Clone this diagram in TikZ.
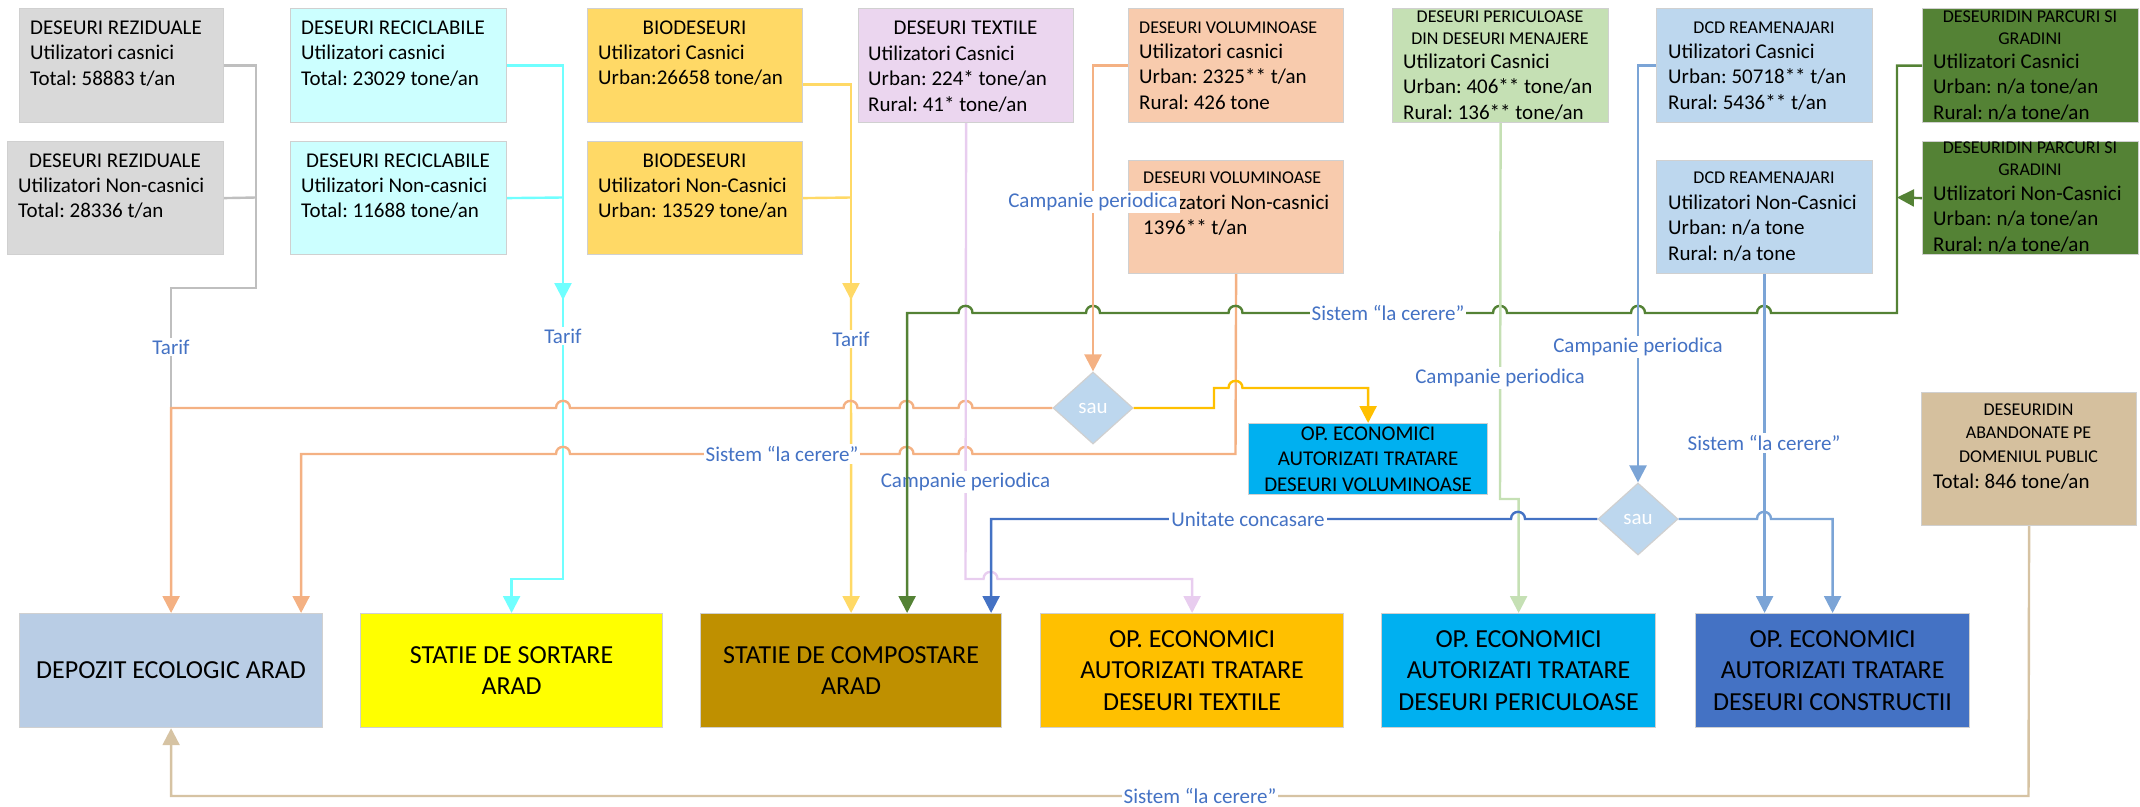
\documentclass[tikz,border=0pt]{standalone}
\usepackage{fontspec}
\setmainfont{Carlito}
\usetikzlibrary{arrows.meta,shapes.geometric}
\definecolor{cBord}{HTML}{D0D0D0}
\definecolor{cRes}{HTML}{D9D9D9}
\definecolor{cRec}{HTML}{CCFFFF}
\definecolor{cBio}{HTML}{FFD966}
\definecolor{cTex}{HTML}{EBD6EF}
\definecolor{cVol}{HTML}{F8CBAD}
\definecolor{cPer}{HTML}{C5E0B4}
\definecolor{cDcd}{HTML}{BDD7EE}
\definecolor{cParc}{HTML}{548235}
\definecolor{cAb}{HTML}{D5C09E}
\definecolor{cDep}{HTML}{B9CDE5}
\definecolor{cSort}{HTML}{FFFF00}
\definecolor{cComp}{HTML}{BF9000}
\definecolor{cTexOP}{HTML}{FFC000}
\definecolor{cSky}{HTML}{00B0F0}
\definecolor{cCon}{HTML}{4472C4}
\definecolor{cDia}{HTML}{BDD7EE}
\definecolor{cLbl}{HTML}{4472C4}
\definecolor{cGreyL}{HTML}{BFBFBF}
\definecolor{cCy}{HTML}{70FFFF}
\definecolor{cYel}{HTML}{FFD966}
\definecolor{cPink}{HTML}{E8CDEF}
\definecolor{cOr}{HTML}{F4B183}
\definecolor{cGreen}{HTML}{548235}
\definecolor{cGold}{HTML}{FFC000}
\definecolor{cPG}{HTML}{C5E0B4}
\definecolor{cSteel}{HTML}{7BA4D6}
\definecolor{cDB}{HTML}{4472C4}
\definecolor{cTan}{HTML}{D6C3A3}
\newcommand{\hopx}[2]{-- (#1-7,#2) .. controls (#1-7,#2-9.5) and (#1+7,#2-9.5) .. (#1+7,#2)}
\newcommand{\hopl}[2]{-- (#1+7,#2) .. controls (#1+7,#2-9.5) and (#1-7,#2-9.5) .. (#1-7,#2)}
\tikzset{
  bx/.style={draw=cBord, line width=1.2pt, inner sep=0pt, anchor=north west},
  bodyt/.style={anchor=north west, inner sep=0pt, align=left, font=\fontsize{21}{25.5}\selectfont},
  titt/.style={anchor=north, inner sep=0pt, align=center, font=\fontsize{18}{22}\selectfont},
  titl/.style={anchor=north west, inner sep=0pt, align=left, font=\fontsize{18}{22}\selectfont},
  lbl/.style={fill=white, text=cLbl, inner sep=2pt, font=\fontsize{21}{25}\selectfont},
  ln/.style={line width=2.4pt},
  arr/.style={-{Triangle[width=17pt,length=17pt]}},
  bigt/.style={align=center, font=\fontsize{26}{31.5}\selectfont},
  dia/.style={diamond, draw=cBord, line width=1.2pt, fill=cDia, minimum width=80pt, minimum height=72pt, inner sep=0pt, text=white, font=\fontsize{21}{25}\selectfont},
}
\begin{document}
\frenchspacing
\begin{tikzpicture}[x=1pt,y=-1pt]
\useasboundingbox (0,0) rectangle (2140,806);
% ---------- source boxes ----------
\node[bx, fill=cRes, minimum width=204pt, minimum height=114pt] (res1) at (19,8) {};
\node[bx, fill=cRes, minimum width=216pt, minimum height=113pt] (res2) at (7,141) {};
\node[bx, fill=cRec, minimum width=216pt, minimum height=114pt] (rec1) at (290,8) {};
\node[bx, fill=cRec, minimum width=216pt, minimum height=113pt] (rec2) at (290,141) {};
\node[bx, fill=cBio, minimum width=215pt, minimum height=114pt] (bio1) at (587,8) {};
\node[bx, fill=cBio, minimum width=215pt, minimum height=113pt] (bio2) at (587,141) {};
\node[bx, fill=cTex, minimum width=215pt, minimum height=114pt] (tex) at (858,8) {};
\node[bx, fill=cVol, minimum width=215pt, minimum height=114pt] (vol1) at (1128,8) {};
\node[bx, fill=cVol, minimum width=215pt, minimum height=113pt] (vol2) at (1128,160) {};
\node[bx, fill=cPer, minimum width=216pt, minimum height=114pt] (per) at (1392,8) {};
\node[bx, fill=cDcd, minimum width=216pt, minimum height=114pt] (dcd1) at (1656,8) {};
\node[bx, fill=cDcd, minimum width=216pt, minimum height=113pt] (dcd2) at (1656,160) {};
\node[bx, fill=cParc, minimum width=216pt, minimum height=114pt] (parc1) at (1922,8) {};
\node[bx, fill=cParc, minimum width=216pt, minimum height=113pt] (parc2) at (1922,141) {};
\node[bx, fill=cAb, minimum width=215pt, minimum height=133pt] (ab) at (1921,392) {};
% ---------- source texts ----------
\node[bodyt] (res1t) at (30,16.2) {\strut DESEURI REZIDUALE\\Utilizatori casnici\\Total: 58883 t/an};
\node[bodyt, anchor=north] (res2a) at (115,149.2) {\strut DESEURI REZIDUALE};
\node[bodyt] (res2b) at (18,174.2) {\strut Utilizatori Non-casnici\\Total: 28336 t/an};
\node[bodyt] (rec1t) at (301,16.2) {\strut DESEURI RECICLABILE\\Utilizatori casnici\\Total: 23029 tone/an};
\node[bodyt, anchor=north] (rec2a) at (398,149.2) {\strut DESEURI RECICLABILE};
\node[bodyt] (rec2b) at (301,174.2) {\strut Utilizatori Non-casnici\\Total: 11688 tone/an};
\node[bodyt, anchor=north] (bio1a) at (694.5,16.2) {\strut BIODESEURI};
\node[bodyt] (bio1b) at (598,41.2) {\strut Utilizatori Casnici\\Urban:26658 tone/an};
\node[bodyt, anchor=north] (bio2a) at (694.5,149.2) {\strut BIODESEURI};
\node[bodyt] (bio2b) at (598,174.2) {\strut Utilizatori Non-Casnici\\Urban: 13529 tone/an};
\node[bodyt, anchor=north] (texa) at (965.5,16.2) {\strut DESEURI TEXTILE};
\node[bodyt] (texb) at (868,42) {\strut Utilizatori Casnici\\Urban: 224* tone/an\\Rural: 41* tone/an};
\node[titl] (vol1a) at (1139,17.6) {\strut DESEURI VOLUMINOASE};
\node[bodyt] (vol1b) at (1139,40.2) {\strut Utilizatori casnici\\Urban: 2325** t/an\\Rural: 426 tone};
\node[titl] (vol2a) at (1143,167.6) {\strut DESEURI VOLUMINOASE};
\node[bodyt] (vol2b) at (1143,191.2) {\strut Utilizatori Non-casnici\\1396** t/an};
\node[titt] (pera) at (1500,6.6) {\strut DESEURI PERICULOASE\\DIN DESEURI MENAJERE};
\node[bodyt] (perb) at (1403,50.2) {\strut Utilizatori Casnici\\Urban: 406** tone/an\\Rural: 136** tone/an};
\node[titt] (dcd1a) at (1764,17.6) {\strut DCD REAMENAJARI};
\node[bodyt] (dcd1b) at (1668,40.2) {\strut Utilizatori Casnici\\Urban: 50718** t/an\\Rural: 5436** t/an};
\node[titt] (dcd2a) at (1764,167.6) {\strut DCD REAMENAJARI};
\node[bodyt] (dcd2b) at (1668,191.2) {\strut Utilizatori Non-Casnici\\Urban: n/a tone\\Rural: n/a tone};
\node[titt] (parc1a) at (2030,6.6) {\strut DESEURIDIN PARCURI SI\\GRADINI};
\node[bodyt] (parc1b) at (1933,50.2) {\strut Utilizatori Casnici\\Urban: n/a tone/an\\Rural: n/a tone/an};
\node[titt] (parc2a) at (2030,137.6) {\strut DESEURIDIN PARCURI SI\\GRADINI};
\node[bodyt] (parc2b) at (1933,182.2) {\strut Utilizatori Non-Casnici\\Urban: n/a tone/an\\Rural: n/a tone/an};
\node[titt, font=\fontsize{18}{23.5}\selectfont] (aba) at (2028.5,398.5) {\strut DESEURIDIN\\ABANDONATE PE\\DOMENIUL PUBLIC};
\node[bodyt] (abb) at (1933,470) {\strut Total: 846 tone/an};
% ---------- destination boxes ----------
\node[bx, bigt, fill=cDep, minimum width=303pt, minimum height=114pt] (dep) at (19,613) {DEPOZIT ECOLOGIC ARAD};
\node[bx, bigt, fill=cSort, minimum width=302pt, minimum height=114pt] (sort) at (360,613) {STATIE DE SORTARE\\ARAD};
\node[bx, bigt, fill=cComp, minimum width=301pt, minimum height=114pt] (comp) at (700,613) {STATIE DE COMPOSTARE\\ARAD};
\node[bx, bigt, fill=cTexOP, minimum width=303pt, minimum height=114pt] (texop) at (1040,613) {OP. ECONOMICI\\AUTORIZATI TRATARE\\DESEURI TEXTILE};
\node[bx, align=center, font=\fontsize{21}{25.5}\selectfont, fill=cSky, minimum width=239pt, minimum height=71pt] (volop) at (1248,423) {OP. ECONOMICI\\AUTORIZATI TRATARE\\DESEURI VOLUMINOASE};
\node[bx, bigt, fill=cSky, minimum width=274pt, minimum height=114pt] (perop) at (1381,613) {OP. ECONOMICI\\AUTORIZATI TRATARE\\DESEURI PERICULOASE};
\node[bx, bigt, fill=cCon, minimum width=274pt, minimum height=114pt] (conop) at (1695,613) {OP. ECONOMICI\\AUTORIZATI TRATARE\\DESEURI CONSTRUCTII};
% ---------- decisions ----------
\node[dia] (d1) at (1093,408) {sau};
\node[dia] (d2) at (1638,519) {sau};
% ---------- connectors ----------
% grey
\draw[ln, cGreyL] (res1.east) -| (256,288) -| (171,408);
\draw[ln, cGreyL] (res2.east) -- (256,197.5);
\node[lbl] (l1) at (171,347) {Tarif};
% cyan
\coordinate (cyM) at (563,300);
\draw[ln, cCy, arr] (rec1.east) -| (cyM);
\draw[ln, cCy] (rec2.east) -- (563,197.5);
\draw[ln, cCy, arr] ([yshift=4pt]cyM) -- (563,579) -| (sort.north);
\node[lbl] (l2) at (563,336) {Tarif};
% yellow
\coordinate (yeM) at (851,300);
\draw[ln, cYel, arr] ([yshift=-19pt]bio1.east) -| (yeM);
\draw[ln, cYel] (bio2.east) -- (851,197.5);
\draw[ln, cYel, arr] ([yshift=4pt]yeM) -- (comp.north);
\node[lbl] (l3) at (851,339) {Tarif};
% orange from first decision to the landfill
\draw[ln, cOr, arr] (d1.west) \hopl{965.5}{408} \hopl{906.5}{408} \hopl{850.5}{408} \hopl{563}{408} -| (dep.north);
% orange, non-household bulky waste
\draw[ln, cOr, arr] (vol2.south) -- (1235.5,454) \hopl{965.5}{454} \hopl{906.5}{454} \hopl{563}{454} -| ([xshift=130pt]dep.north);
\node[lbl] (l6) at (782,454) {Sistem “la cerere”};
% pink
\draw[ln, cPink, arr] (tex.south) -- (965.5,579) \hopx{990.5}{579} -| (texop.north);
\node[lbl] (l5) at (965.5,482) {Campanie periodica};
% green
\draw[ln, cGreen, arr] (parc1.west) -| (1897,313) \hopl{1764}{313} \hopl{1638}{313} \hopl{1500}{313} \hopl{1235.5}{313} \hopl{1093}{313} \hopl{965.5}{313} -| ([xshift=56pt]comp.north);
\draw[ln, cGreen, arr] (parc2.west) -- (1897,197.5);
\node[lbl] (l7) at (1388,313) {Sistem “la cerere”};
% gold
\draw[ln, cGold, arr] (d1.east) -- (1214,408) -- (1214,388) \hopx{1235.5}{388} -| (volop.north);
% orange, household bulky waste
\draw[ln, cOr, arr] (vol1.west) -| (d1.north);
\node[lbl] (l4) at (1093,202) {Campanie periodica};
% hazardous
\draw[ln, cPG, arr] (per.south) -- (1500,499) -| (perop.north);
\node[lbl] (l8) at (1500,378) {Campanie periodica};
% DCD household
\draw[ln, cSteel, arr] (dcd1.west) -| (d2.north);
\node[lbl] (l9) at (1638,347) {Campanie periodica};
% crushing unit
\draw[ln, cDB, arr] (d2.west) \hopl{1518}{519} -| ([xshift=140pt]comp.north);
\node[lbl] (l11) at (1248,519) {Unitate concasare};
% DCD to constructions
\draw[ln, cSteel, arr] (d2.east) \hopx{1764}{519} -| (conop.north);
\draw[ln, cSteel, arr] (dcd2.south) -- ([xshift=-68pt]conop.north);
\node[lbl] (l10) at (1764,443) {Sistem “la cerere”};
% abandoned waste
\draw[ln, cTan, arr] (ab.south) -- (2028.5,796) -| (dep.south);
\node[lbl] (l12) at (1200,796) {Sistem “la cerere”};
\end{tikzpicture}
\end{document}
